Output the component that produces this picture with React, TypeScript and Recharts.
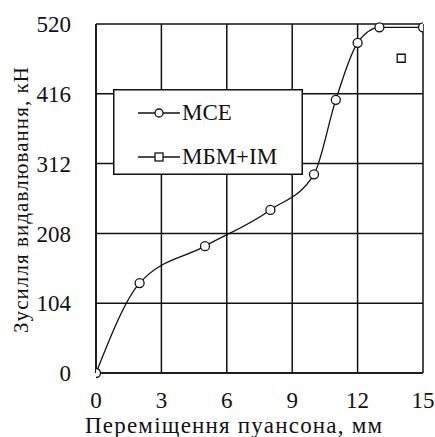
import React from "react";
import { CartesianGrid, ComposedChart, Label, Line, Scatter, XAxis, YAxis } from "recharts";

const xTicks = [0, 3, 6, 9, 12, 15];
const yTicks = [0, 104, 208, 312, 416, 520];

const mceX = [0, 2, 5, 8, 10, 11, 12, 13, 15];
const mceY = [0, 134, 189, 243, 296, 407, 492, 515, 515];

const mbmX = [14];
const mbmY = [469];

const mce = mceX.map((x, i) => ({ x, y: mceY[i] }));
const mbm = mbmX.map((x, i) => ({ x, y: mbmY[i] }));

const font = "'Liberation Serif', 'Times New Roman', serif";
const txt = { fontFamily: font, fill: "#111" };

function XTick(props: any) {
  return (
    <text x={props.x} y={props.y} dy="0.71em" textAnchor="middle" fontSize={23} style={txt}>
      {props.payload.value}
    </text>
  );
}

function YTick(props: any) {
  return (
    <text x={props.x} y={props.y} dy="0.355em" textAnchor="end" fontSize={23} style={txt}>
      {props.payload.value}
    </text>
  );
}

function LegendBox() {
  return (
    <svg width={190} height={86} style={{ display: "block" }}>
      <rect x={0.75} y={0.75} width={188.5} height={84.5} fill="#fff" stroke="#111" strokeWidth={1.5} />
      <line x1={25} x2={67} y1={24} y2={24} stroke="#111" strokeWidth={1.3} />
      <circle cx={46} cy={24} r={4} fill="#fff" stroke="#111" strokeWidth={1.3} />
      <text x={69} y={31} fontSize={23} style={txt}>MCE</text>
      <line x1={25} x2={67} y1={68} y2={68} stroke="#111" strokeWidth={1.3} />
      <rect x={42} y={64} width={8} height={8} fill="#fff" stroke="#111" strokeWidth={1.3} />
      <text x={69} y={75} fontSize={23} style={txt}>МБМ+ІМ</text>
    </svg>
  );
}

export default function App() {
  return (
    <div style={{ position: "absolute", left: 0, top: 0, width: 435, height: 437, background: "#fff" }}>
      <ComposedChart width={435} height={437} margin={{ top: 24, right: 12, bottom: 0, left: 0 }}>
        <CartesianGrid stroke="#111" strokeWidth={1.5} />
        <XAxis
          type="number"
          dataKey="x"
          domain={[0, 15]}
          ticks={xTicks}
          height={64}
          axisLine={{ stroke: "#111", strokeWidth: 1.5 }}
          tickLine={false}
          tickMargin={13}
          tick={<XTick />}
          allowDataOverflow
        >
          <Label
            content={() => (
              <text x={85} y={433} fontSize={23} textLength={297} lengthAdjust="spacing" style={txt}>
                Переміщення пуансона, мм
              </text>
            )}
          />
        </XAxis>
        <YAxis
          type="number"
          domain={[0, 520]}
          ticks={yTicks}
          width={96}
          axisLine={{ stroke: "#111", strokeWidth: 1.5 }}
          tickLine={false}
          tickMargin={19}
          tick={<YTick />}
        >
          <Label
            content={() => (
              <text
                x={28}
                y={333}
                transform="rotate(-90 28 333)"
                fontSize={21}
                textLength={266}
                lengthAdjust="spacing"
                style={txt}
              >
                Зусилля видавлювання, кН
              </text>
            )}
          />
        </YAxis>
        <Line
          data={mce}
          dataKey="y"
          type="monotone"
          stroke="#111"
          strokeWidth={1.3}
          dot={{ r: 4.5, fill: "#fff", stroke: "#111", strokeWidth: 1.3 }}
          isAnimationActive={false}
        />
        <Scatter
          data={mbm}
          dataKey="y"
          shape="square"
          fill="#fff"
          stroke="#111"
          strokeWidth={1.3}
          isAnimationActive={false}
        />
      </ComposedChart>
      <div style={{ position: "absolute", left: 113, top: 89 }}>
        <LegendBox />
      </div>
    </div>
  );
}
